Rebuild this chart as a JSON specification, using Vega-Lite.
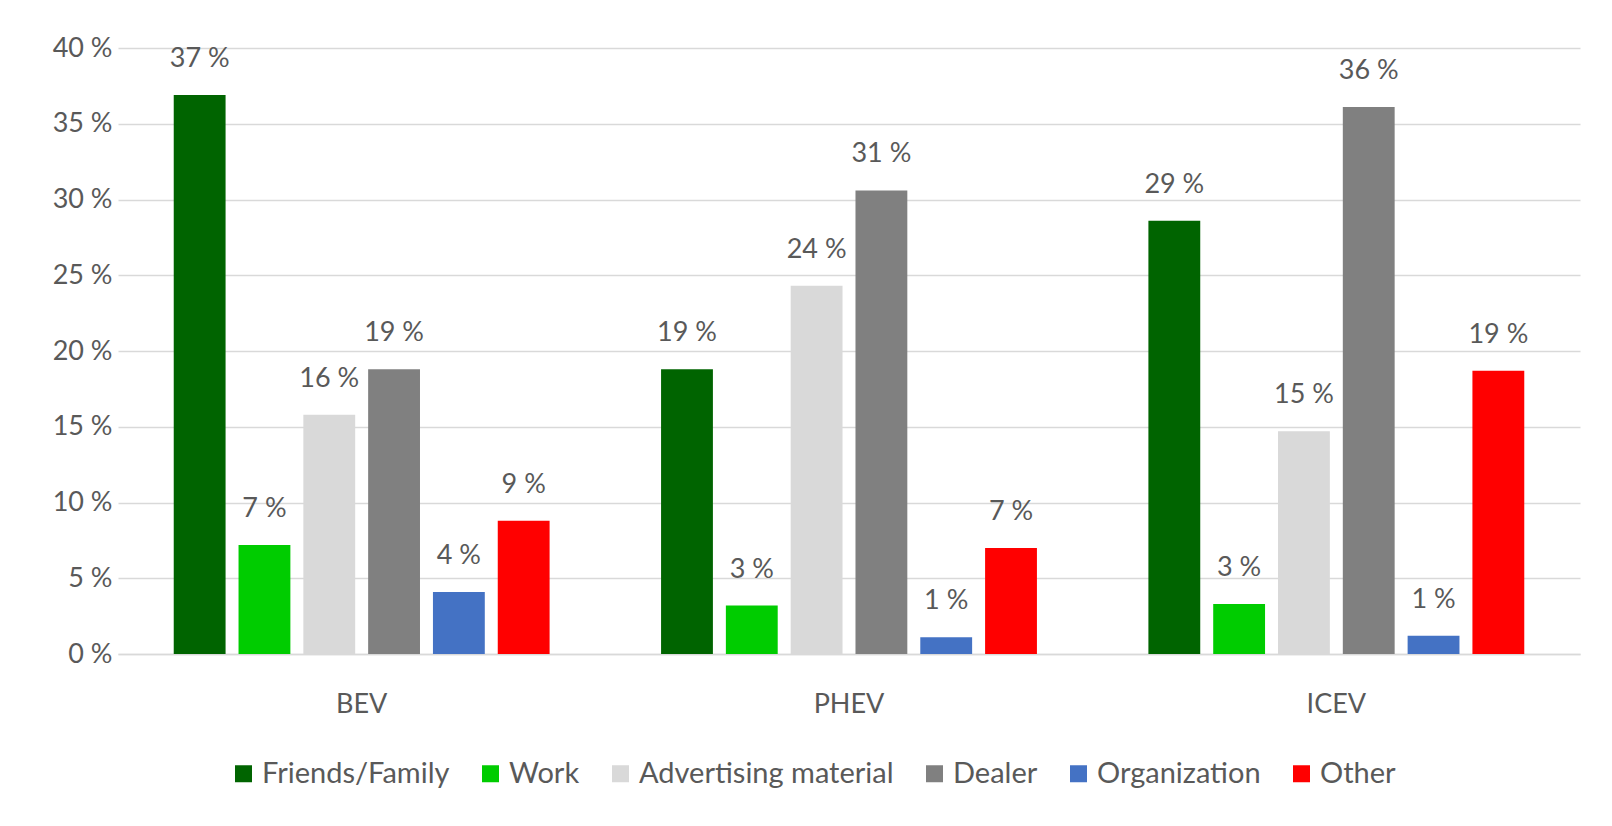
{
  "$schema": "https://vega.github.io/schema/vega-lite/v6.json",
  "width": 1462,
  "height": 606,
  "autosize": {"type": "none"},
  "padding": {"left": 118, "top": 48, "right": 32, "bottom": 172},
  "background": "white",
  "config": {
    "font": "Lato",
    "view": {"stroke": null},
    "axis": {"labelColor": "#595959", "labelFont": "Lato", "labelFontSize": 27}
  },
  "data": {
    "values": [
      {"vehicle": "BEV", "source": "Friends/Family", "value": 36.9},
      {"vehicle": "BEV", "source": "Work", "value": 7.2},
      {"vehicle": "BEV", "source": "Advertising material", "value": 15.8},
      {"vehicle": "BEV", "source": "Dealer", "value": 18.8},
      {"vehicle": "BEV", "source": "Organization", "value": 4.1},
      {"vehicle": "BEV", "source": "Other", "value": 8.8},
      {"vehicle": "PHEV", "source": "Friends/Family", "value": 18.8},
      {"vehicle": "PHEV", "source": "Work", "value": 3.2},
      {"vehicle": "PHEV", "source": "Advertising material", "value": 24.3},
      {"vehicle": "PHEV", "source": "Dealer", "value": 30.6},
      {"vehicle": "PHEV", "source": "Organization", "value": 1.1},
      {"vehicle": "PHEV", "source": "Other", "value": 7.0},
      {"vehicle": "ICEV", "source": "Friends/Family", "value": 28.6},
      {"vehicle": "ICEV", "source": "Work", "value": 3.3},
      {"vehicle": "ICEV", "source": "Advertising material", "value": 14.7},
      {"vehicle": "ICEV", "source": "Dealer", "value": 36.1},
      {"vehicle": "ICEV", "source": "Organization", "value": 1.2},
      {"vehicle": "ICEV", "source": "Other", "value": 18.7}
    ]
  },
  "transform": [
    {"calculate": "format(datum.value, '.0f') + ' %'", "as": "label"}
  ],
  "encoding": {
    "x": {
      "field": "vehicle", "type": "nominal", "sort": ["BEV", "PHEV", "ICEV"],
      "scale": {"paddingInner": 0, "paddingOuter": 0},
      "axis": {"title": null, "labelAngle": 0, "ticks": false, "domain": true, "domainColor": "#d9d9d9", "domainWidth": 1.5, "labelPadding": 37, "labelBaseline": "top"}
    },
    "xOffset": {
      "field": "source", "type": "nominal",
      "sort": ["Friends/Family", "Work", "Advertising material", "Dealer", "Organization", "Other"],
      "scale": {"paddingInner": 0.2, "paddingOuter": 0.86}
    },
    "y": {
      "field": "value", "type": "quantitative",
      "scale": {"domain": [0, 40], "nice": false},
      "axis": {"title": null, "values": [0, 5, 10, 15, 20, 25, 30, 35, 40], "labelExpr": "datum.value + ' %'", "domain": false, "ticks": false, "grid": true, "gridColor": "#d9d9d9", "gridWidth": 1.5, "labelPadding": 6}
    }
  },
  "layer": [
    {
      "mark": {"type": "bar"},
      "encoding": {
        "color": {
          "field": "source", "type": "nominal",
          "sort": ["Friends/Family", "Work", "Advertising material", "Dealer", "Organization", "Other"],
          "scale": {
            "domain": ["Friends/Family", "Work", "Advertising material", "Dealer", "Organization", "Other"],
            "range": ["#006400", "#00CC00", "#D9D9D9", "#808080", "#4472C4", "#FF0000"]
          },
          "legend": {
            "title": null, "orient": "none", "direction": "horizontal",
            "legendX": 111, "legendY": 711,
            "symbolType": "square", "symbolSize": 289, "symbolStrokeWidth": 0,
            "labelFont": "Lato", "labelFontSize": 29, "labelColor": "#595959",
            "labelOffset": 4, "columnPadding": 26, "labelLimit": 400
          }
        }
      }
    },
    {
      "mark": {"type": "text", "dy": -36, "baseline": "middle", "fontSize": 27, "font": "Lato", "color": "#595959"},
      "encoding": {
        "text": {"field": "label"}
      }
    }
  ]
}
